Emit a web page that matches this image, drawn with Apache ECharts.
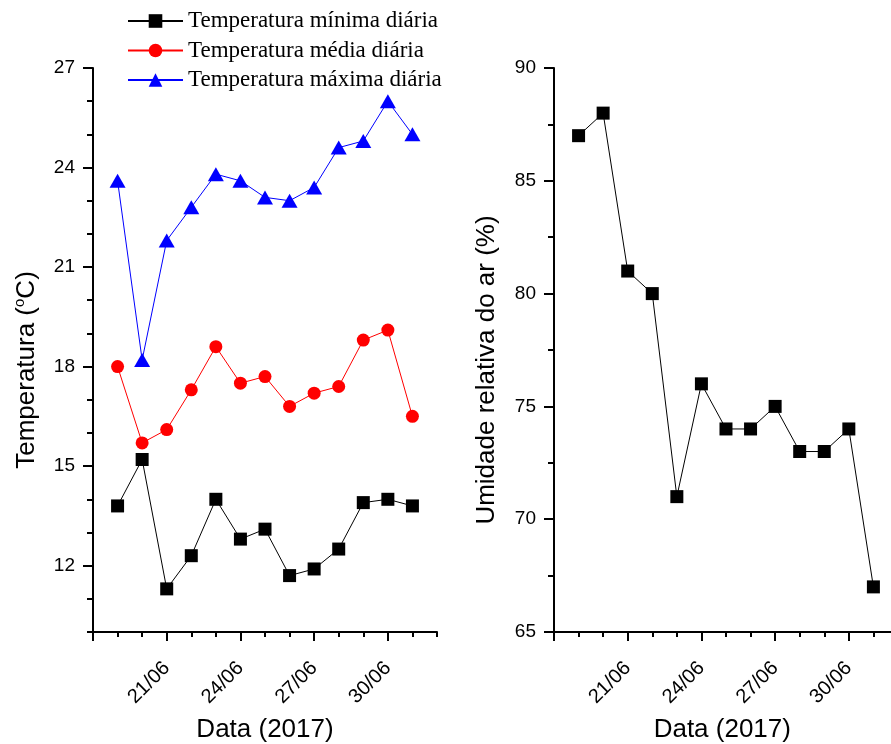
<!DOCTYPE html>
<html>
<head>
<meta charset="utf-8">
<script src="https://cdn.jsdelivr.net/npm/echarts@6/dist/echarts.min.js"></script>
<style>
  html, body { margin: 0; padding: 0; background: #fff; }
  #chart { width: 891px; height: 744px; }
</style>
</head>
<body>
<div id="chart"></div>
<script>
// Days of the observation period, counted as days of June (31 = 01/07)
const days = [19, 20, 21, 22, 23, 24, 25, 26, 27, 28, 29, 30, 31];

// Daily air temperature (°C)
const tempMin = [13.8, 15.2, 11.3, 12.3, 14.0, 12.8, 13.1, 11.7, 11.9, 12.5, 13.9, 14.0, 13.8];
const tempMed = [18.0, 15.7, 16.1, 17.3, 18.6, 17.5, 17.7, 16.8, 17.2, 17.4, 18.8, 19.1, 16.5];
const tempMax = [23.6, 18.2, 21.8, 22.8, 23.8, 23.6, 23.1, 23.0, 23.4, 24.6, 24.8, 26.0, 25.0];

// Daily relative humidity (%)
const umidade = [87, 88, 81, 80, 71, 76, 74, 74, 75, 73, 73, 74, 67];

// Tick positions
const dateLabelDays = [21, 24, 27, 30];
const dateMajorDays = [18, 21, 24, 27, 30];
const dateMinorDays = [19, 20, 22, 23, 25, 26, 28, 29, 31, 32];
const tempLabels = [12, 15, 18, 21, 24, 27];
const tempMinorTicks = [10, 11, 13, 14, 16, 17, 19, 20, 22, 23, 25, 26];

const seriesNames = ['Temperatura mínima diária', 'Temperatura média diária', 'Temperatura máxima diária'];

const SANS = '"Liberation Sans", Arial, sans-serif';
const SERIF = '"Liberation Serif", "Times New Roman", serif';

function dateLabel(d) {
  const pad = n => (n < 10 ? '0' : '') + n;
  return d <= 30 ? pad(d) + '/06' : pad(d - 30) + '/07';
}
const pairs = ys => days.map((d, i) => [d, ys[i]]);

const axisLine = { show: true, onZero: false, lineStyle: { color: '#000', width: 2 } };

function dateAxes(gridIndex, max) {
  return [
    {
      type: 'value', gridIndex, position: 'bottom', min: 18, max: max,
      name: 'Data (2017)', nameLocation: 'middle', nameGap: 85,
      nameTextStyle: { fontFamily: SANS, fontSize: 26, color: '#000' },
      axisLine,
      axisTick: { show: true, inside: false, length: 9, customValues: dateMajorDays,
                  lineStyle: { color: '#000', width: 2 } },
      axisLabel: { show: true, customValues: dateLabelDays, rotate: 45, margin: 33,
                   fontFamily: SANS, fontSize: 20, color: '#000', formatter: dateLabel },
      splitLine: { show: false }
    },
    {
      type: 'value', gridIndex, position: 'bottom', min: 18, max: max,
      axisLine: { show: false },
      axisTick: { show: true, inside: false, length: 5, customValues: dateMinorDays.filter(d => d <= max),
                  lineStyle: { color: '#000', width: 2 } },
      axisLabel: { show: false },
      splitLine: { show: false }
    }
  ];
}

const option = {
  animation: false,
  backgroundColor: '#fff',
  legend: {
    orient: 'vertical',
    left: 127, top: 9, padding: 0,
    itemWidth: 55, itemHeight: 17, itemGap: 5.5,
    data: seriesNames,
    textStyle: { fontFamily: SERIF, fontSize: 23, color: '#000', lineHeight: 24 }
  },
  grid: [
    { left: 93, top: 68, width: 344, height: 564, outerBoundsMode: 'none', containLabel: false },
    { left: 554, top: 68, width: 336.6, height: 564, outerBoundsMode: 'none', containLabel: false }
  ],
  xAxis: [...dateAxes(0, 32), ...dateAxes(1, 31.7)],
  yAxis: [
    {
      type: 'value', gridIndex: 0, position: 'left', min: 10, max: 27,
      name: 'Temperatura ({sup|o}C)', nameLocation: 'middle', nameGap: 51,
      nameTextStyle: {
        fontFamily: SANS, fontSize: 26, color: '#000', lineHeight: 30, padding: [0, 40, 0, 0],
        rich: { sup: { fontFamily: SANS, fontSize: 15, verticalAlign: 'top', lineHeight: 30, color: '#000' } }
      },
      axisLine,
      axisTick: { show: true, inside: false, length: 10, customValues: tempLabels,
                  lineStyle: { color: '#000', width: 2 } },
      axisLabel: { show: true, customValues: tempLabels, margin: 18,
                   fontFamily: SANS, fontSize: 19, color: '#000' },
      splitLine: { show: false }
    },
    {
      type: 'value', gridIndex: 0, position: 'left', min: 10, max: 27,
      axisLine: { show: false },
      axisTick: { show: true, inside: false, length: 6, customValues: tempMinorTicks,
                  lineStyle: { color: '#000', width: 2 } },
      axisLabel: { show: false },
      splitLine: { show: false }
    },
    {
      type: 'value', gridIndex: 1, position: 'left', min: 65, max: 90, interval: 5,
      name: 'Umidade relativa do ar (%)', nameLocation: 'middle', nameGap: 54,
      nameTextStyle: { fontFamily: SANS, fontSize: 26, color: '#000', padding: [0, 40, 0, 0] },
      axisLine,
      axisTick: { show: true, inside: false, length: 10, lineStyle: { color: '#000', width: 2 } },
      minorTick: { show: true, splitNumber: 2, length: 6, lineStyle: { color: '#000', width: 2 } },
      axisLabel: { show: true, margin: 18, fontFamily: SANS, fontSize: 19, color: '#000' },
      splitLine: { show: false },
      minorSplitLine: { show: false }
    }
  ],
  series: [
    {
      name: seriesNames[0], type: 'line', xAxisIndex: 0, yAxisIndex: 0,
      data: pairs(tempMin), symbol: 'rect', symbolSize: 13,
      itemStyle: { color: '#000' }, lineStyle: { color: '#000', width: 1 }
    },
    {
      name: seriesNames[1], type: 'line', xAxisIndex: 0, yAxisIndex: 0,
      data: pairs(tempMed), symbol: 'circle', symbolSize: 13,
      itemStyle: { color: '#ff0000' }, lineStyle: { color: '#ff0000', width: 1 }
    },
    {
      name: seriesNames[2], type: 'line', xAxisIndex: 0, yAxisIndex: 0,
      data: pairs(tempMax), symbol: 'triangle', symbolSize: [16, 14],
      itemStyle: { color: '#0000ff' }, lineStyle: { color: '#0000ff', width: 1 }
    },
    {
      name: 'Umidade relativa do ar', type: 'line', xAxisIndex: 2, yAxisIndex: 2,
      data: pairs(umidade), symbol: 'rect', symbolSize: 13,
      itemStyle: { color: '#000' }, lineStyle: { color: '#000', width: 1 }
    }
  ]
};

const chart = echarts.init(document.getElementById('chart'), null, { renderer: 'canvas' });
chart.setOption(option);
</script>
</body>
</html>
